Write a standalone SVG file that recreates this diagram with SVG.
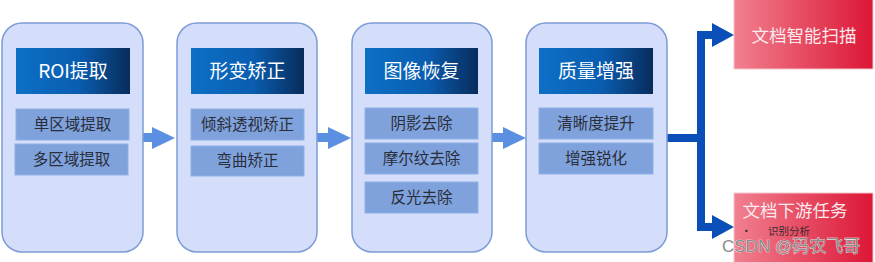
<svg xmlns="http://www.w3.org/2000/svg" width="875" height="262" viewBox="0 0 875 262">
<defs>
<linearGradient id="hdr" x1="0" y1="0" x2="1" y2="0">
<stop offset="0" stop-color="#0C70C6"/>
<stop offset="0.55" stop-color="#0A5DB0"/>
<stop offset="1" stop-color="#082C5B"/>
</linearGradient>
<linearGradient id="red" x1="0" y1="0" x2="1" y2="0">
<stop offset="0" stop-color="#F1808F"/>
<stop offset="1" stop-color="#DC1636"/>
</linearGradient>
<style>
.outer{fill:#D4DEFB;stroke:#7E9CD6;stroke-width:1.5}
.hdr{fill:url(#hdr)}
.sub{fill:#7FA2DD;stroke:#8FB0E6;stroke-width:1}
.red{fill:url(#red);stroke:#F3C6CE;stroke-width:1}
.ht{font-family:"Noto Sans CJK SC","Liberation Sans",sans-serif;font-size:19px;fill:#FFFFFF;text-anchor:middle}
.st{font-family:"Noto Sans CJK SC","Liberation Sans",sans-serif;font-size:15.5px;fill:#2A2E3A;text-anchor:middle}
.rt{font-family:"Noto Sans CJK SC","Liberation Sans",sans-serif;font-size:17.5px;fill:#FBE9EC;text-anchor:middle}
.sm{font-family:"Noto Sans CJK SC","Liberation Sans",sans-serif;font-size:10.5px;fill:#3A2A2E}
.wm{font-family:"Liberation Sans","Noto Sans CJK SC",sans-serif;font-size:17px;fill:#8A8A8A;stroke:#FFFFFF;stroke-width:0.6;paint-order:stroke}
.la{fill:#5A8FE2}
.da{fill:#0A4FB8}
.dl{fill:none;stroke:#0A4FB8;stroke-width:8;stroke-linejoin:miter}
</style>
</defs>

<g id="connectors">
<rect class="la" x="143" y="133" width="10" height="9"/>
<polygon class="la" points="152,127 175,138 152,149"/>
<rect class="la" x="317" y="133" width="12" height="9"/>
<polygon class="la" points="328,127 351,138 328,149"/>
<rect class="la" x="492" y="133" width="12" height="9"/>
<polygon class="la" points="503,127 526,138 503,149"/>
<path class="dl" d="M667,138 H701"/>
<path class="dl" d="M713,35 H701 V227 H713"/>
<polygon class="da" points="712,23 734,35 712,47"/>
<polygon class="da" points="712,215 734,227 712,239"/>
</g>

<g id="node-roi">
<rect class="outer" x="2" y="23" width="141" height="229" rx="20"/>
<rect class="hdr" x="16" y="48" width="114" height="46"/>
<text class="ht" x="73" y="78">ROI提取</text>
<rect class="sub" x="16" y="109" width="113" height="31"/>
<text class="st" x="72.5" y="130">单区域提取</text>
<rect class="sub" x="15" y="144" width="113" height="31"/>
<text class="st" x="71.5" y="165">多区域提取</text>
</g>

<g id="node-deform">
<rect class="outer" x="177" y="23" width="140" height="229" rx="20"/>
<rect class="hdr" x="191" y="48" width="113" height="46"/>
<text class="ht" x="247.5" y="78">形变矫正</text>
<rect class="sub" x="191" y="109" width="113" height="31"/>
<text class="st" x="247.5" y="130">倾斜透视矫正</text>
<rect class="sub" x="191" y="146" width="113" height="30"/>
<text class="st" x="247.5" y="166">弯曲矫正</text>
</g>

<g id="node-restore">
<rect class="outer" x="352" y="23" width="140" height="229" rx="20"/>
<rect class="hdr" x="365" y="48" width="113" height="46"/>
<text class="ht" x="421.5" y="78">图像恢复</text>
<rect class="sub" x="365" y="108" width="113" height="31"/>
<text class="st" x="421.5" y="129">阴影去除</text>
<rect class="sub" x="365" y="143" width="113" height="31"/>
<text class="st" x="421.5" y="164">摩尔纹去除</text>
<rect class="sub" x="365" y="182" width="113" height="31"/>
<text class="st" x="421.5" y="203">反光去除</text>
</g>

<g id="node-enhance">
<rect class="outer" x="526" y="23" width="141" height="229" rx="20"/>
<rect class="hdr" x="539" y="48" width="114" height="46"/>
<text class="ht" x="596" y="78">质量增强</text>
<rect class="sub" x="539" y="108" width="114" height="31"/>
<text class="st" x="596" y="129">清晰度提升</text>
<rect class="sub" x="539" y="143" width="114" height="31"/>
<text class="st" x="596" y="164">增强锐化</text>
</g>

<g id="node-scan">
<rect class="red" x="734" y="-1" width="139" height="70"/>
<text class="rt" x="804" y="42">文档智能扫描</text>
</g>

<g id="node-downstream">
<rect class="red" x="734" y="193" width="139" height="70"/>
<text class="rt" x="795" y="217">文档下游任务</text>
<text class="sm" x="741" y="235">•</text>
<text class="sm" x="768" y="235">识别分析</text>
</g>

<text class="wm" x="722" y="252">CSDN @码农飞哥</text>
</svg>
